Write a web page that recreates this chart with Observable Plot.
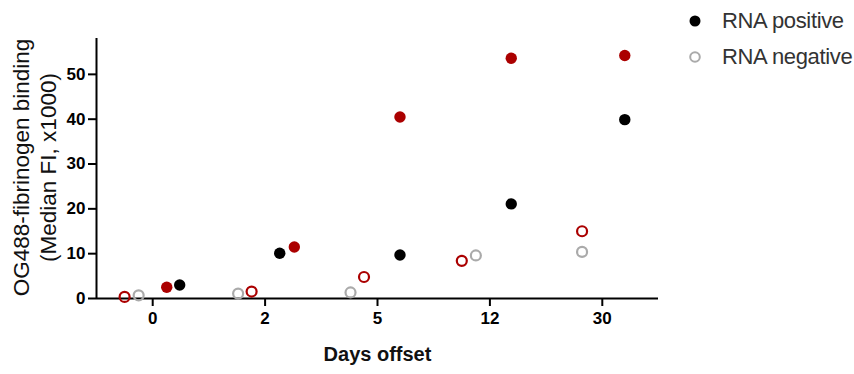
<!DOCTYPE html>
<html>
<head>
<meta charset="utf-8">
<script src="https://cdn.jsdelivr.net/npm/d3@7"></script>
<script src="https://cdn.jsdelivr.net/npm/@observablehq/plot@0.6"></script>
<style>
  html, body { margin: 0; padding: 0; background: #fff; }
  #wrap { position: relative; width: 854px; height: 374px; font-family: "Liberation Sans", Arial, sans-serif; }
  #legend { position: absolute; left: 686px; top: 3px; font-size: 22px; color: #333; letter-spacing: -0.35px; }
  .item { display: flex; align-items: center; height: 36px; }
  .sym { width: 18px; height: 18px; margin-right: 18px; display: flex; align-items: center; justify-content: center; }
</style>
</head>
<body>
<div id="wrap"><div id="legend"></div></div>
<script>
// ---- data ----
const days = ["0", "2", "5", "12", "30"];
// black filled: RNA positive
const rnaPositive = [3.0, 10.1, 9.7, 21.1, 39.9];
const rnaPositiveOffset = [0.24, 0.13, 0.2, 0.19, 0.2];
// grey open: RNA negative
const rnaNegative = [0.7, 1.1, 1.35, 9.6, 10.4];
const rnaNegativeOffset = [-0.125, -0.24, -0.24, -0.125, -0.18];
// red filled
const redPositive = [2.5, 11.5, 40.5, 53.6, 54.2];
const redPositiveOffset = [0.125, 0.26, 0.2, 0.19, 0.2];
// red open
const redNegative = [0.35, 1.55, 4.8, 8.4, 15.0];
const redNegativeOffset = [-0.25, -0.12, -0.12, -0.25, -0.18];

const yTicks = [0, 10, 20, 30, 40, 50];
const yLabel = "OG488-fibrinogen binding\n(Median FI, x1000)";
const xLabel = "Days offset";
const legendItems = [
  {label: "RNA positive", fill: "#000", stroke: "none"},
  {label: "RNA negative", fill: "none", stroke: "#aaa"}
];

const RED = "#ab0000";
const GREY = "#aaaaaa";

function rows(values, offsets) {
  return values.map((v, i) => ({x: i + offsets[i], y: v}));
}

const chart = Plot.plot({
  width: 854,
  height: 374,
  marginLeft: 96,
  marginRight: 196,
  marginTop: 38,
  marginBottom: 76,
  style: {fontFamily: "'Liberation Sans', Arial, sans-serif", color: "#000", background: "#fff"},
  x: {type: "linear", domain: [-0.5, 4.5]},
  y: {domain: [0, 58]},
  marks: [
    Plot.axisX({ticks: [0, 1, 2, 3, 4], tickFormat: i => days[i], tickSize: 8, tickPadding: 5,
      fontSize: 17, fontWeight: "bold", strokeWidth: 2, label: null}),
    Plot.axisY({ticks: yTicks, tickSize: 8, tickPadding: 3,
      fontSize: 17, fontWeight: "bold", strokeWidth: 2, label: null}),
    Plot.ruleY([0], {strokeWidth: 2}),
    Plot.ruleX([-0.5], {strokeWidth: 2}),
    Plot.dot(rows(redNegative, redNegativeOffset), {x: "x", y: "y", r: 5, stroke: RED, strokeWidth: 2.2, fill: "none"}),
    Plot.dot(rows(rnaNegative, rnaNegativeOffset), {x: "x", y: "y", r: 5, stroke: GREY, strokeWidth: 2.2, fill: "none"}),
    Plot.dot(rows(redPositive, redPositiveOffset), {x: "x", y: "y", r: 5.7, fill: RED}),
    Plot.dot(rows(rnaPositive, rnaPositiveOffset), {x: "x", y: "y", r: 5.7, fill: "#000"}),
    Plot.text([yLabel], {frameAnchor: "left", textAnchor: "middle", rotate: -90, dx: -63, dy: -1, fontSize: 22.5, lineHeight: 1.2, fill: "#111"}),
    Plot.text([xLabel], {frameAnchor: "bottom", dy: 62, fontSize: 20, fontWeight: "bold", fill: "#111"})
  ]
});
const wrap = document.getElementById("wrap");
wrap.insertBefore(chart, wrap.firstChild);

const legend = d3.select("#legend");
legendItems.forEach(it => {
  const row = legend.append("div").attr("class", "item");
  const svg = row.append("div").attr("class", "sym").append("svg").attr("width", 18).attr("height", 18);
  svg.append("circle").attr("cx", 9).attr("cy", 9).attr("r", it.stroke === "none" ? 5.5 : 4.8)
    .attr("fill", it.fill).attr("stroke", it.stroke).attr("stroke-width", 2);
  row.append("span").text(it.label);
});
</script>
</body>
</html>
